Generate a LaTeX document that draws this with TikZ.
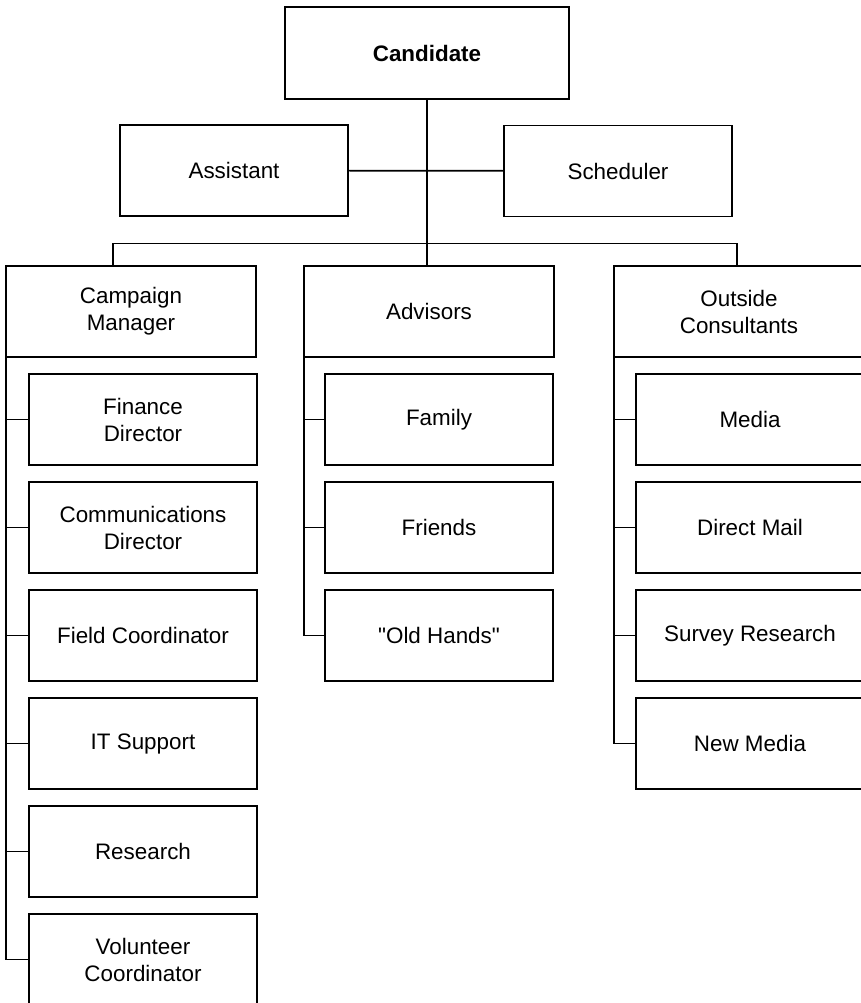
\documentclass[tikz,border=0pt]{standalone}
\usepackage{fontspec}
\setmainfont{Liberation Sans}
\usepackage{tikz}
\usetikzlibrary{positioning}
\newcommand{\straightquote}{\XeTeXglyph\XeTeXcharglyph"22\relax}

\begin{document}
\begin{tikzpicture}[x=1pt, y=1pt, node distance=17pt]
		% Define styles
		\tikzstyle{box} = [rectangle, draw=black, line width=1.7pt, outer sep=0pt, minimum width=228pt, minimum height=91pt, align=center, font=\fontsize{22.4}{27}\selectfont]
		\tikzstyle{head} = [box, minimum width=250pt]
		\tikzstyle{conn} = [draw=black, line width=1.7pt]

		\clip (0,0) rectangle (861,-1003);

		% Top nodes
		\node[box, minimum width=284pt, minimum height=92pt, font=\fontsize{22.4}{27}\selectfont\bfseries] (cand) at (427,-53) {Candidate};
		\node[box] (assist) at (234,-170.5) {Assistant};
		\node[box] (sched) at (618,-171) {Scheduler};

		% Groups
		\node[head] (mgr) at (131,-311.5) {Campaign\\Manager};
		\node[head] (adv) at (429,-311.5) {Advisors};
		\node[head] (cons) at (739,-311.5) {Outside\\Consultants};

		% Campaign staff
		\node[box, anchor=north west] (fin) at ([shift={(23,-17)}]mgr.south west) {Finance\\Director};
		\node[box, below=of fin] (comm) {Communications\\Director};
		\node[box, below=of comm] (field) {Field Coordinator};
		\node[box, below=of field] (it) {IT Support};
		\node[box, below=of it] (res) {Research};
		\node[box, below=of res] (vol) {Volunteer\\Coordinator};

		% Advisors
		\node[box, anchor=north west] (fam) at ([shift={(21,-17)}]adv.south west) {Family};
		\node[box, below=of fam] (friends) {Friends};
		\node[box, below=of friends] (hands) {\straightquote Old Hands\straightquote};

		% Consultants
		\node[box, anchor=north west] (media) at ([shift={(22,-17)}]cons.south west) {Media};
		\node[box, below=of media] (mail) {Direct Mail};
		\node[box, below=of mail] (survey) {Survey Research};
		\node[box, below=of survey] (newmedia) {New Media};

		% Bus coordinates
		\coordinate (busL) at (113,-243.5);
		\coordinate (busR) at (737,-243.5);

		% Lines
		\draw[conn] (cand) -- (cand |- adv.north);
		\draw[conn] (assist) -- (sched);
		\draw[conn] (busL |- mgr.north) |- (busR) -- (busR |- cons.north);
		\foreach \kid in {fin,comm,field,it,res,vol}
			\draw[conn] (mgr.south west) |- (\kid.west);
		\foreach \kid in {fam,friends,hands}
			\draw[conn] (adv.south west) |- (\kid.west);
		\foreach \kid in {media,mail,survey,newmedia}
			\draw[conn] (cons.south west) |- (\kid.west);
	\end{tikzpicture}
\end{document}
